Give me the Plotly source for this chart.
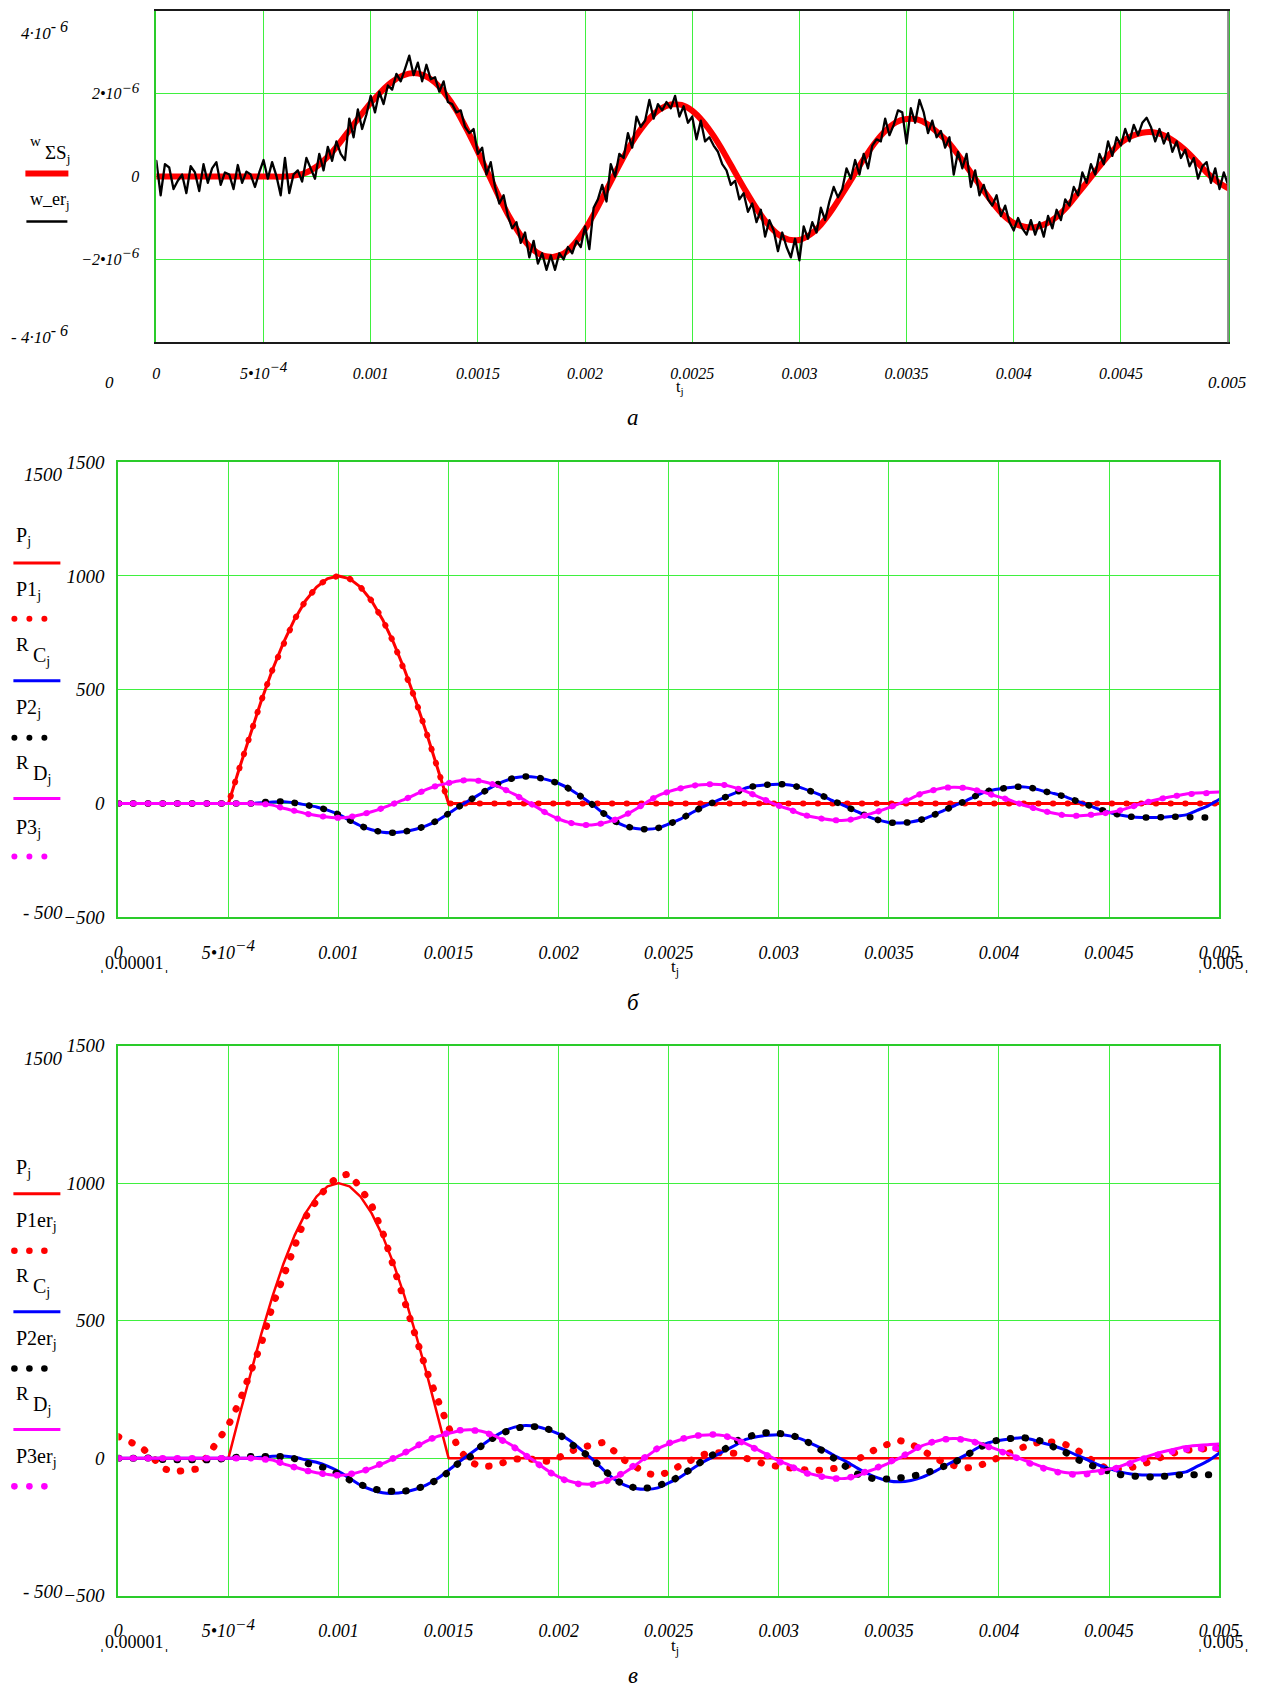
import plotly.graph_objects as go

W, H = 1266, 1693
SERIF = "Liberation Serif, Times New Roman, serif"

# Positions below are written in screen pixels of the final capture.
# The capture is scaled (x 0.9805, y 0.9893) and offset by a few pixels,
# so every position is mapped back to page pixels before use.
SX, OX = 0.9805, 3.6
SY, OY = 0.9893, 8.1

GRID = "#3ff03f"
FRAME_GREEN = "#2acb2a"
RED, BLUE, MAGENTA, BLACK = "#ff0000", "#0000ff", "#ff00ff", "#000000"
DOT = "0.5px,14.2px"        # round-capped dashes -> evenly spaced dots


def fx(px):
    return ((px - OX) / SX) / W


def fy(py):
    return 1 - ((py - OY) / SY) / H


def sup(text, size):
    return "<sup><span style='font-size:%dpx'>%s</span></sup>" % (size, text)


# ---------------- time grids ----------------
t_ms = [round(0.05 * i, 2) for i in range(101)]        # 0 ... 5 ms, step 0.05 ms
t_er_ms = [round(0.02 * i, 2) for i in range(251)]     # 0 ... 5 ms, step 0.02 ms
t = [v / 1000 for v in t_ms]
t_er = [v / 1000 for v in t_er_ms]

# ---------------- panel а : displacement, 1e-6 ----------------
w_sum = [
    0, 0, 0, 0, 0, 0, 0, 0, 0, 0,
    0, 0, 0, 0.03, 0.10, 0.25, 0.48, 0.78, 1.12, 1.46,
    1.78, 2.06, 2.29, 2.44, 2.50, 2.44, 2.27, 1.98, 1.60, 1.12,
    0.60, 0.05, -0.50, -1.00, -1.42, -1.73, -1.90, -1.94, -1.86, -1.62,
    -1.27, -0.82, -0.32, 0.18, 0.66, 1.07, 1.40, 1.63, 1.74, 1.73,
    1.59, 1.33, 0.98, 0.56, 0.10, -0.35, -0.77, -1.13, -1.39, -1.52,
    -1.53, -1.40, -1.16, -0.82, -0.42, 0.00, 0.42, 0.80, 1.10, 1.31,
    1.39, 1.38, 1.26, 1.04, 0.80, 0.46, 0.10, -0.27, -0.62, -0.92,
    -1.12, -1.21, -1.22, -1.14, -0.97, -0.72, -0.40, -0.08, 0.25, 0.56,
    0.82, 0.98, 1.06, 1.07, 1.00, 0.85, 0.64, 0.38, 0.10, -0.12,
    -0.28,
]

w_er = [
    0.38, -0.45, 0.30, 0.22, -0.30, -0.10, 0.05, -0.40, 0.25, 0.10,
    -0.35, 0.30, -0.15, 0.20, 0.35, -0.20, 0.10, 0.05, -0.30, 0.28,
    -0.15, 0.12, 0.05, -0.25, 0.10, 0.40, -0.05, 0.35, 0.02, -0.45,
    0.45, -0.40, 0.05, 0.15, -0.12, 0.45, 0.20, -0.05, 0.55, 0.15,
    0.72, 0.38, 0.85, 0.55, 0.40, 1.40, 0.95, 1.62, 1.15, 1.50,
    1.95, 1.55, 2.05, 1.75, 2.20, 2.10, 2.48, 2.30, 2.60, 2.92,
    2.45, 2.75, 2.30, 2.70, 2.35, 2.40, 2.05, 2.30, 1.80, 1.75,
    1.55, 1.60, 1.20, 1.05, 1.15, 0.55, 0.70, 0.05, 0.35, -0.25,
    -0.65, -0.45, -0.95, -1.25, -1.10, -1.60, -1.35, -1.95, -1.55, -2.10,
    -1.85, -2.25, -1.90, -2.25, -1.85, -2.00, -1.70, -1.85, -1.55, -1.70,
    -1.20, -1.75, -0.75, -0.55, -0.20, -0.60, 0.30, 0.00, 0.55, 0.45,
    1.05, 0.70, 1.45, 1.20, 1.35, 1.85, 1.40, 1.75, 1.60, 1.80,
    1.65, 1.95, 1.45, 1.70, 1.30, 1.45, 0.90, 1.35, 0.85, 0.95,
    0.75, 0.60, 0.30, 0.15, -0.20, -0.10, -0.55, -0.40, -0.85, -0.65,
    -1.10, -0.80, -1.45, -1.05, -1.30, -1.80, -1.35, -1.70, -1.95, -1.50,
    -2.02, -1.20, -1.50, -1.10, -1.35, -0.75, -1.05, -0.60, -0.25, -0.50,
    -0.30, 0.20, -0.05, 0.40, 0.05, 0.55, 0.20, 0.75, 0.90, 0.85,
    1.40, 1.00, 1.25, 1.60, 1.55, 0.80, 1.65, 1.30, 1.85, 1.55,
    1.05, 1.35, 0.95, 1.10, 0.70, 0.95, 0.05, 0.60, 0.20, 0.55,
    -0.25, 0.15, -0.45, -0.20, -0.55, -0.70, -0.45, -0.95, -0.70, -1.10,
    -1.30, -1.00, -1.25, -1.40, -1.05, -1.40, -1.10, -1.45, -0.95, -1.25,
    -0.80, -1.05, -0.55, -0.70, -0.25, -0.45, 0.10, -0.15, 0.30, 0.05,
    0.55, 0.30, 0.85, 0.50, 0.95, 0.75, 1.15, 0.85, 1.25, 1.00,
    1.30, 1.42, 1.20, 0.85, 1.15, 0.80, 1.05, 0.60, 0.85, 0.45,
    0.65, 0.25, 0.45, -0.05, 0.25, 0.35, -0.15, 0.20, -0.30, 0.10,
    -0.20,
]

# ---------------- panels б, в : load and reactions ----------------
P = [
    0, 0, 0, 0, 0, 0, 0, 0, 0, 0,
    0, 156, 309, 454, 588, 707, 809, 891, 951, 988,
    1000, 988, 951, 891, 809, 707, 588, 454, 309, 156,
    0, 0, 0, 0, 0, 0, 0, 0, 0, 0,
    0, 0, 0, 0, 0, 0, 0, 0, 0, 0,
    0, 0, 0, 0, 0, 0, 0, 0, 0, 0,
    0, 0, 0, 0, 0, 0, 0, 0, 0, 0,
    0, 0, 0, 0, 0, 0, 0, 0, 0, 0,
    0, 0, 0, 0, 0, 0, 0, 0, 0, 0,
    0, 0, 0, 0, 0, 0, 0, 0, 0, 0,
    0,
]

P1 = [
    0, 0, 0, 0, 0, 0, 0, 0, 0, -6,
    0, 156, 309, 454, 588, 707, 809, 891, 951, 988,
    1000, 988, 951, 891, 809, 707, 588, 454, 309, 156,
    0, 0, 0, 0, 0, 0, 0, 0, 0, 0,
    0, 0, 0, 0, 0, 0, 0, 0, 0, 0,
    0, 0, 0, 0, 0, 0, 0, 0, 0, 0,
    0, 0, 0, 0, 0, 0, 0, 0, 0, 0,
    0, 0, 0, 0, 0, 0, 0, 0, 0, 0,
    0, 0, 0, 0, 0, 0, 0, 0, 0, 0,
    0, 0, 0, 0, 0, 0, 0, 0, 0, 0,
    0,
]

P1er = [
    78, 62, 42, 8, -36, -50, -47, -40, 2, 62,
    120, 205, 315, 418, 553, 666, 764, 876, 936, 990,
    1025, 1034, 982, 920, 823, 702, 573, 444, 317, 212,
    112, 28, -15, -31, -28, -16, -4, -1, -7, -12,
    2, 24, 38, 47, 57, 27, -8, -32, -55, -64,
    -50, -28, -8, 12, 20, 21, 18, 0, -15, -25,
    -30, -37, -44, -46, -43, -40, -32, -8, 18, 37,
    52, 64, 52, 27, 3, -17, -28, -36, -31, -15,
    4, 22, 37, 53, 59, 59, 50, 32, 6, -25,
    -38, -40, -34, -24, -7, 8, 20, 29, 35, 35,
    35,
]

R_C = [
    0, 0, 0, 0, 0, 0, 0, 0, 0, 0,
    0, 0, 0, 3, 7, 8, 3, -6, -15, -29,
    -48, -73, -98, -115, -126, -128, -123, -113, -97, -74,
    -44, -12, 17, 46, 74, 97, 113, 119, 115, 104,
    88, 64, 32, -2, -40, -75, -98, -110, -113, -108,
    -90, -70, -43, -17, 4, 25, 46, 68, 78, 83,
    85, 81, 70, 52, 33, 10, -10, -33, -55, -72,
    -83, -86, -81, -70, -52, -30, -9, 12, 36, 55,
    64, 70, 74, 68, 55, 44, 30, 12, -5, -24,
    -38, -50, -58, -61, -61, -60, -56, -50, -30, -10,
    18,
]

P2 = [
    0, 0, 0, 0, 0, 0, 0, 0, 0, 0,
    0, 0, 0, 5, 9, 9, 3, -6, -15, -29,
    -48, -73, -98, -115, -126, -128, -123, -113, -97, -74,
    -44, -12, 17, 46, 74, 97, 113, 119, 115, 104,
    88, 64, 32, -2, -40, -75, -98, -110, -113, -108,
    -90, -70, -43, -17, 4, 25, 46, 68, 78, 83,
    85, 81, 70, 52, 33, 10, -10, -33, -55, -72,
    -83, -86, -81, -70, -52, -30, -9, 12, 36, 55,
    64, 70, 74, 68, 55, 44, 30, 12, -5, -24,
    -38, -50, -58, -61, -61, -60, -58, -60, -61, -61,
    -61,
]

P2er = [
    0, 0, 0, 0, -5, -6, -6, -6, -6, -4,
    0, 4, 6, 6, 6, 5, -2, -17, -28, -38,
    -58, -79, -96, -110, -118, -121, -120, -112, -98, -77,
    -50, -15, 6, 45, 72, 93, 107, 115, 114, 106,
    88, 55, 28, -2, -38, -74, -97, -108, -109, -100,
    -86, -66, -40, -12, 12, 30, 60, 73, 88, 93,
    90, 84, 72, 50, 26, 0, -28, -55, -70, -76,
    -75, -72, -66, -58, -45, -30, -14, 10, 32, 55,
    66, 71, 75, 70, 60, 40, 22, -2, -20, -35,
    -48, -60, -64, -68, -68, -66, -62, -60, -60, -60,
    -60,
]

R_D = [
    0, 0, 0, 0, 0, 0, 0, 0, 0, 0,
    0, 0, 0, -2, -7, -21, -32, -44, -53, -59,
    -63, -59, -49, -36, -20, -1, 18, 40, 62, 79,
    90, 100, 103, 98, 85, 64, 40, 12, -16, -45,
    -68, -84, -93, -94, -87, -73, -52, -25, 6, 34,
    52, 66, 77, 83, 85, 82, 70, 53, 33, 11,
    -10, -26, -46, -58, -67, -73, -74, -66, -50, -35,
    -18, 1, 22, 45, 58, 69, 71, 68, 58, 44,
    29, 15, -3, -18, -32, -43, -52, -54, -51, -46,
    -40, -30, -15, 0, 13, 24, 33, 42, 46, 49,
    51,
]

P3 = [
    0, 0, 0, 0, 0, 0, 0, 0, 0, 0,
    0, 0, 0, -2, -7, -21, -32, -44, -53, -59,
    -63, -59, -49, -36, -20, -1, 18, 40, 62, 79,
    90, 100, 103, 98, 85, 64, 40, 12, -16, -45,
    -68, -84, -93, -94, -87, -73, -52, -25, 6, 34,
    52, 66, 77, 83, 85, 82, 70, 53, 33, 11,
    -10, -26, -46, -58, -67, -73, -74, -66, -50, -35,
    -18, 1, 22, 45, 58, 69, 71, 68, 58, 44,
    29, 15, -3, -18, -32, -43, -52, -54, -51, -46,
    -40, -30, -15, 0, 13, 24, 33, 40, 44, 46,
    47,
]

P3er = [
    0, 0, 0, 0, 0, 0, 0, 0, 0, 0,
    0, 0, 0, -3, -8, -20, -33, -45, -52, -60,
    -62, -58, -50, -35, -18, 0, 20, 42, 63, 80,
    92, 101, 102, 97, 83, 62, 38, 10, -18, -46,
    -70, -86, -95, -96, -88, -72, -50, -22, 8, 36,
    54, 68, 78, 84, 86, 82, 68, 52, 31, 9,
    -12, -28, -48, -60, -68, -74, -74, -64, -48, -33,
    -15, 3, 24, 46, 59, 68, 70, 66, 56, 42,
    27, 12, -6, -22, -36, -48, -56, -60, -58, -52,
    -44, -32, -18, -4, 8, 18, 26, 32, 35, 36,
    36,
]

for name, arr, n in [("w_sum", w_sum, 101), ("w_er", w_er, 251), ("P", P, 101),
                     ("P1", P1, 101), ("P1er", P1er, 101), ("R_C", R_C, 101),
                     ("P2", P2, 101), ("P2er", P2er, 101), ("R_D", R_D, 101),
                     ("P3", P3, 101), ("P3er", P3er, 101)]:
    assert len(arr) == n, (name, len(arr))

# tick labels
x_ticks = [0.0005 * i for i in range(11)]
x_text_a = ["0", "5•10" + sup("−4", 15), "0.001", "0.0015", "0.002", "0.0025",
            "0.003", "0.0035", "0.004", "0.0045"]
x_text = ["0", "5•10" + sup("−4", 17), "0.001", "0.0015", "0.002", "0.0025",
          "0.003", "0.0035", "0.004", "0.0045", "0.005"]
w_ticks = [-2e-6, 0, 2e-6]
w_text = ["−2•10" + sup("−6", 15), "0", "2•10" + sup("−6", 15)]
p_ticks = [-500, 0, 500, 1000, 1500]
p_text = ["−500", "0", "500", "1000", "1500"]

fig = go.Figure()


def line(x, y, ax, color, width, dash=None, spline=True, name=""):
    ln = dict(color=color, width=width)
    if dash:
        ln["dash"] = dash
    if spline:
        ln["shape"] = "spline"
        ln["smoothing"] = 0.6
    fig.add_trace(go.Scatter(x=x, y=y, mode="lines", line=ln, name=name,
                             xaxis="x" + ax, yaxis="y" + ax,
                             hoverinfo="skip", showlegend=False))


# panel а
line(t, [v * 1e-6 for v in w_sum], "", RED, 6, name="wΣS")
line(t_er, [v * 1e-6 for v in w_er], "", BLACK, 2.3, spline=False, name="w_er")

# panel б
line(t, P, "2", RED, 3, spline=False, name="P")
line(t, P1, "2", RED, 6, dash=DOT, spline=False, name="P1")
line(t, R_C, "2", BLUE, 3, name="RC")
line(t, P2, "2", BLACK, 6.5, dash=DOT, name="P2")
line(t, R_D, "2", MAGENTA, 3, name="RD")
line(t, P3, "2", MAGENTA, 6, dash=DOT, name="P3")

# panel в
line(t, P, "3", RED, 2.5, spline=False, name="P")
line(t, P1er, "3", RED, 7, dash=DOT, spline=False, name="P1er")
line(t, R_C, "3", BLUE, 3, name="RC")
line(t, P2er, "3", BLACK, 7, dash=DOT, name="P2er")
line(t, R_D, "3", MAGENTA, 3, name="RD")
line(t, P3er, "3", MAGENTA, 6.5, dash=DOT, name="P3er")


def xaxis(px0, px1, anchor, vals, text, size, standoff, lc):
    return dict(domain=[fx(px0), fx(px1)], anchor=anchor, range=[0, 0.005],
                tickmode="array", tickvals=vals, ticktext=text,
                showgrid=True, gridcolor=GRID, gridwidth=1, zeroline=False,
                showline=True, linecolor=lc, linewidth=2, mirror=True, ticks="",
                tickfont=dict(family=SERIF, size=size, color="black", style="italic"),
                ticklabelstandoff=standoff, fixedrange=True)


def yaxis(py_bottom, py_top, anchor, rng, vals, text, size, standoff, lc):
    return dict(domain=[fy(py_bottom), fy(py_top)], anchor=anchor, range=rng,
                tickmode="array", tickvals=vals, ticktext=text,
                showgrid=True, gridcolor=GRID, gridwidth=1, zeroline=False,
                showline=True, linecolor=lc, linewidth=2, mirror=True, ticks="",
                tickfont=dict(family=SERIF, size=size, color="black", style="italic"),
                ticklabelstandoff=standoff, fixedrange=True)


fig.update_layout(
    width=W, height=H, margin=dict(l=0, r=0, t=0, b=0),
    paper_bgcolor="white", plot_bgcolor="white", showlegend=False,
    xaxis=xaxis(155, 1227, "y", x_ticks[:10], x_text_a, 16, 15, "#1a1a1a"),
    yaxis=yaxis(341, 9, "x", [-4e-6, 4e-6], w_ticks, w_text, 16, 12, FRAME_GREEN),
    xaxis2=xaxis(117, 1218, "y2", x_ticks, x_text, 18, 18, FRAME_GREEN),
    yaxis2=yaxis(917, 461, "x2", [-500, 1500], p_ticks, p_text, 19, 8, FRAME_GREEN),
    xaxis3=xaxis(117, 1218, "y3", x_ticks, x_text, 18, 18, FRAME_GREEN),
    yaxis3=yaxis(1596.5, 1045.5, "x3", [-500, 1500], p_ticks, p_text, 19, 8, FRAME_GREEN),
)

ann = []


def note(text, px, py, size=16, italic=False, xanchor="center", yanchor="middle"):
    ann.append(dict(text=text, x=fx(px), y=fy(py), xref="paper", yref="paper",
                    showarrow=False, xanchor=xanchor, yanchor=yanchor,
                    font=dict(family=SERIF, size=size, color="black",
                              style="italic" if italic else "normal")))


# axis limit labels and titles
note("4·10" + sup("- 6", 16), 69, 29, 17, True, "right")
note("- 4·10" + sup("- 6", 16), 69, 333, 17, True, "right")
note("0", 108, 381, 17, True)
note("0.005", 1226, 381, 17, True)
note("t<sub>j</sub>", 679, 386, 16)
note("а", 632, 416, 23, True)

for top, bottom, lab_y, cap, cap_y in [(473, 912, 963, "б", 1002),
                                        (1058, 1592, 1643, "в", 1676)]:
    note("1500", 64, top, 19, True, "right")
    note("- 500", 64, bottom, 19, True, "right")
    note("ˌ0.00001ˌ", 133, lab_y, 18)
    note("ˌ0.005ˌ", 1222, lab_y, 18)
    note("t<sub>j</sub>", 674, lab_y + 5, 17)
    note(cap, 632, cap_y, 23, True)

# trace labels on the left
note("w", 27, 139, 15, xanchor="left")
note("ΣS<sub>j</sub>", 42, 152, 19, xanchor="left")
note("w_er<sub>j</sub>", 27, 199, 18, xanchor="left")

legend_b = [
    ("P", None, 536, 562, "line", RED),
    ("P1", None, 590, 618, "dots", RED),
    ("R", "C", 650, 680, "line", BLUE),
    ("P2", None, 708, 737, "dots", BLACK),
    ("R", "D", 768, 798, "line", MAGENTA),
    ("P3", None, 828, 856, "dots", MAGENTA),
]
legend_c = [
    ("P", None, 1169, 1194, "line", RED),
    ("P1er", None, 1222, 1251, "dots", RED),
    ("R", "C", 1282, 1312, "line", BLUE),
    ("P2er", None, 1340, 1369, "dots", BLACK),
    ("R", "D", 1400, 1430, "line", MAGENTA),
    ("P3er", None, 1458, 1487, "dots", MAGENTA),
]

shapes = []


def hline(px0, px1, py, color, width):
    shapes.append(dict(type="line", xref="paper", yref="paper",
                       x0=fx(px0), x1=fx(px1), y0=fy(py), y1=fy(py),
                       line=dict(color=color, width=width)))


def dot(px, py, r, color):
    shapes.append(dict(type="circle", xref="paper", yref="paper",
                       x0=fx(px - r), x1=fx(px + r), y0=fy(py + r), y1=fy(py - r),
                       fillcolor=color, line=dict(width=0)))


for block, r in [(legend_b, 3.0), (legend_c, 3.3)]:
    for label, sub, ty, sy, kind, color in block:
        if sub:
            note(label, 13, ty - 6, 19, xanchor="left")
            note(sub + "<sub>j</sub>", 30, ty + 6, 20, xanchor="left")
        else:
            note(label + "<sub>j</sub>", 13, ty, 20, xanchor="left")
        if kind == "line":
            hline(12, 59, sy, color, 3)
        else:
            for cx in (13, 28, 43):
                dot(cx, sy, r, color)

hline(24, 67, 172, RED, 6)
hline(25, 66, 220, BLACK, 2.5)
# grey right edge of the upper frame
shapes.append(dict(type="line", xref="paper", yref="paper",
                   x0=fx(1227), x1=fx(1227), y0=fy(341), y1=fy(9),
                   line=dict(color="#8a8a8a", width=2)))

fig.update_layout(annotations=ann, shapes=shapes)

round_caps = (
    "var s=document.createElement('style');"
    "s.textContent='.scatterlayer .js-line{stroke-linecap:round;stroke-linejoin:round}';"
    "document.head.appendChild(s);"
)
fig.write_html("out.html", post_script=round_caps)
